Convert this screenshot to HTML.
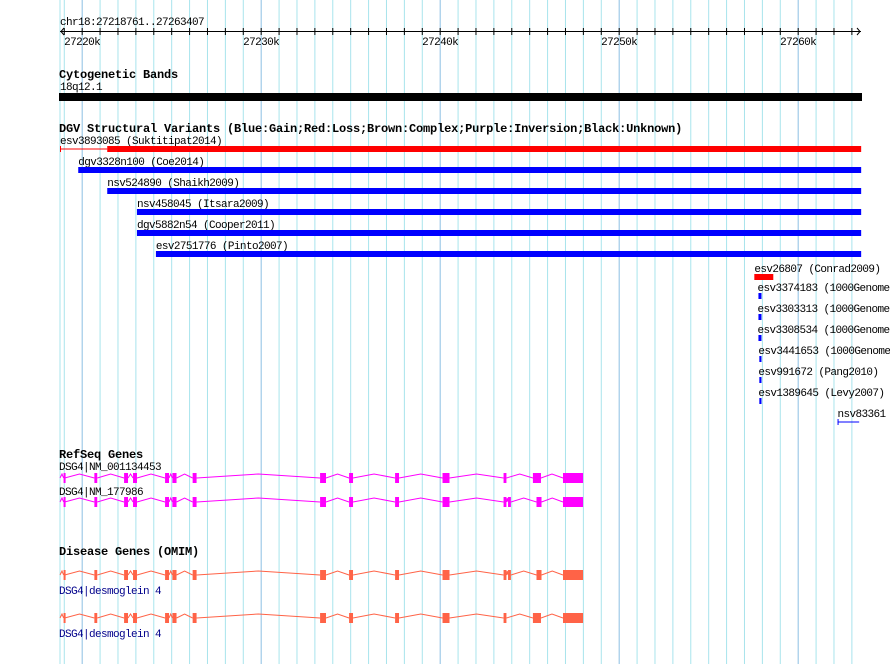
<!DOCTYPE html>
<html><head><meta charset="utf-8"><style>
body{margin:0;background:#fff}
svg{display:block}
text{font-family:"Liberation Mono",monospace;font-size:11px;letter-spacing:-0.6px;fill:#000}
.h{font-weight:bold;font-size:12px;letter-spacing:-0.2px}
</style></head><body>
<svg id="s" width="890" height="664" xmlns="http://www.w3.org/2000/svg"></svg>
<script>
const startBp=27218761, endBp=27263407;
const tickKb=[27220,27230,27240,27250,27260];
const svs=[
 {id:'esv3893085 (Suktitipat2014)',s:27218761,e:27263407,thick:27221400,c:'#f00'},
 {id:'dgv3328n100 (Coe2014)',s:27219780,e:27263407,c:'#00f'},
 {id:'nsv524890 (Shaikh2009)',s:27221400,e:27263407,c:'#00f'},
 {id:'nsv458045 (Itsara2009)',s:27223060,e:27263407,c:'#00f'},
 {id:'dgv5882n54 (Cooper2011)',s:27223060,e:27263407,c:'#00f'},
 {id:'esv2751776 (Pinto2007)',s:27224120,e:27263407,c:'#00f'},
 {id:'esv26807 (Conrad2009)',s:27257550,e:27258610,c:'#f00'},
 {id:'esv3374183 (1000Genomes',s:27257780,e:27257950,c:'#00f'},
 {id:'esv3303313 (1000Genomes',s:27257780,e:27257950,c:'#00f'},
 {id:'esv3308534 (1000Genomes',s:27257780,e:27257950,c:'#00f'},
 {id:'esv3441653 (1000Genomes',s:27257830,e:27257950,c:'#00f'},
 {id:'esv991672 (Pang2010)',s:27257830,e:27257950,c:'#00f'},
 {id:'esv1389645 (Levy2007)',s:27257830,e:27257950,c:'#00f'},
 {id:'nsv83361',s:27262200,e:27263407,c:'#00f',line:true}
];
const exonsA=[[0.2,0.26],[1.92,2.08],[3.58,3.8],[4.08,4.3],[5.87,6.09],[6.28,6.51],[7.41,7.63],[14.53,14.86],[16.15,16.37],[18.72,18.94],[21.37,21.76],[24.78,24.94],[26.42,26.87],[28.1,29.22]];
const exonsB=[[0.2,0.26],[1.92,2.08],[3.58,3.8],[4.08,4.3],[5.87,6.09],[6.28,6.51],[7.41,7.63],[14.53,14.86],[16.15,16.37],[18.72,18.94],[21.37,21.76],[24.78,24.94],[25.03,25.19],[26.62,26.9],[28.1,29.22]];
const genes=[
 {label:'DSG4|NM_001134453',ex:exonsA,y:478,ly:470,c:'#f0f',lc:'#000',name:'refseq-gene-1'},
 {label:'DSG4|NM_177986',ex:exonsB,y:502,ly:495,c:'#f0f',lc:'#000',name:'refseq-gene-2'},
 {label:'DSG4|desmoglein 4',ex:exonsB,y:575,ly:594,c:'#ff6347',lc:'#00008b',name:'omim-gene-1'},
 {label:'DSG4|desmoglein 4',ex:exonsA,y:618,ly:637,c:'#ff6347',lc:'#00008b',name:'omim-gene-2'}
];
const S=document.getElementById('s'),NS='http://www.w3.org/2000/svg';
const pxPerKb=17.9, x0=60;
function X(bp){return x0+(bp-startBp)/1000*pxPerKb}
function XK(kb){return x0+kb*pxPerKb}
function el(t,a,p){const e=document.createElementNS(NS,t);for(const k in a)e.setAttribute(k,a[k]);(p||S).appendChild(e);return e}
function tx(x,y,s,cls,fill){const t=el('text',{x:x,y:y});if(cls)t.setAttribute('class',cls);if(fill)t.setAttribute('style','fill:'+fill);t.textContent=s;return t}
for(let kb=27219;kb<=27263;kb++){
 const l=el('line',{x1:X(kb*1000),x2:X(kb*1000),y1:0,y2:664,stroke:kb%10==0?'#8cc0e4':'#a8e4ec','stroke-width':1});
 
 
}
el('line',{x1:60,x2:60,y1:0,y2:664,stroke:'#a8e4ec'});
let t=tx(60,25,'chr18:27218761..27263407');


const r=el('line',{x1:60,x2:861,y1:31.5,y2:31.5,stroke:'#000'});


el('path',{d:'M64 28 L61 31.5 L64 35 M857 28 L860 31.5 L857 35',stroke:'#000',fill:'none'});
for(let kb=27219;kb<=27263;kb++){el('line',{x1:X(kb*1000),x2:X(kb*1000),y1:28,y2:35,stroke:'#000'});}
tickKb.forEach(k=>{const tt=tx(X(k*1000),45,k+'k');tt.setAttribute('text-anchor','middle');
 
 });
t=tx(59,78,'Cytogenetic Bands','h');


tx(60,90,'18q12.1');
const cb=el('rect',{x:59,y:93,width:803,height:8,fill:'#000'});


t=tx(59,132,'DGV Structural Variants (Blue:Gain;Red:Loss;Brown:Complex;Purple:Inversion;Black:Unknown)','h');


svs.forEach((v,i)=>{
 const y=i<6?140+i*21:(i==6?268:287+(i-7)*21);
 const lx=Math.max(60,X(v.s))+(i>=7&&i<13?-1:0);
 tx(lx,y+4,v.id);
 const by=y+9;
 const g=el('g',{});
 
 
 if(v.line){
  el('line',{x1:X(v.s),x2:X(v.e),y1:by,y2:by,stroke:v.c},g);
  el('line',{x1:X(v.s)+0.5,x2:X(v.s)+0.5,y1:by-3,y2:by+3,stroke:v.c},g);
 }else if(v.thick){
  el('line',{x1:X(v.s),x2:X(v.thick),y1:by,y2:by,stroke:v.c},g);
  el('line',{x1:X(v.s)+0.5,x2:X(v.s)+0.5,y1:by-3,y2:by+3,stroke:v.c},g);
  el('rect',{x:X(v.thick),y:by-3,width:X(v.e)-X(v.thick)+2,height:6,fill:v.c},g);
 }else{
  const w=Math.max(2,X(v.e)-X(v.s)+(v.e==endBp?2:0));
  el('rect',{x:X(v.s),y:by-3,width:w,height:6,fill:v.c},g);
 }
});
t=tx(59,458,'RefSeq Genes','h');


t=tx(59,555,'Disease Genes (OMIM)','h');


genes.forEach(gn=>{
 const g=el('g',{});
 
 
 tx(59,gn.ly,gn.label,null,gn.lc);
 let d='M60 '+(gn.y)+' L62 '+(gn.y-4)+' L'+XK(gn.ex[0][0])+' '+gn.y;
 for(let i=0;i<gn.ex.length-1;i++){
  const a=XK(gn.ex[i][1]),b=XK(gn.ex[i+1][0]);
  d+=' M'+a+' '+gn.y+' L'+((a+b)/2)+' '+(gn.y-4)+' L'+b+' '+gn.y;
 }
 el('path',{d:d,stroke:gn.c,fill:'none','stroke-width':1},g);
 gn.ex.forEach(e=>{
  const a=XK(e[0]),b=XK(e[1]);
  el('rect',{x:a,y:gn.y-5,width:Math.max(2,b-a),height:10,fill:gn.c},g);
 });
});
</script>
</body></html>
